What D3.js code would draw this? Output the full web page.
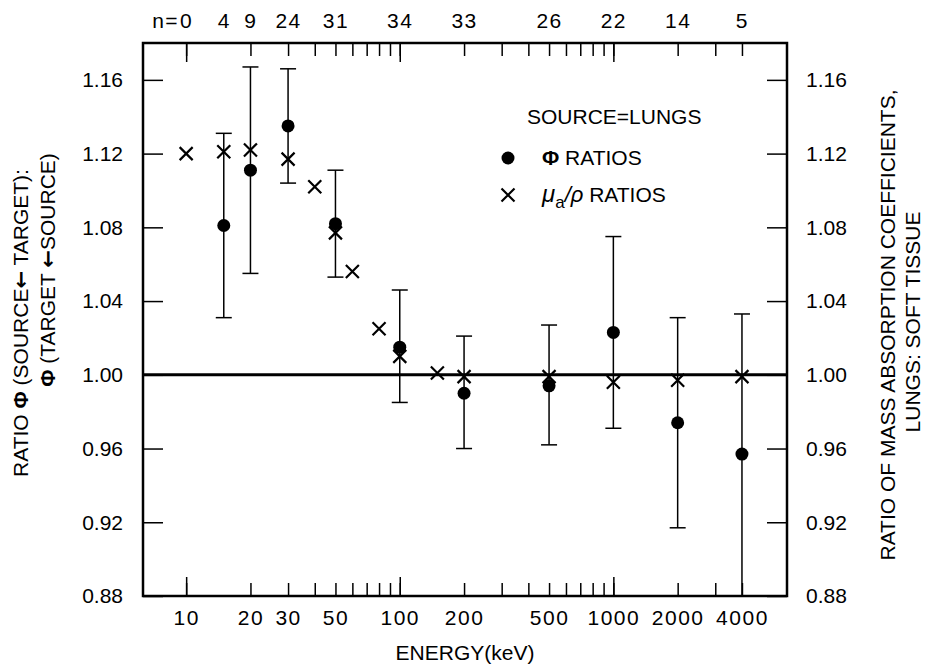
<!DOCTYPE html>
<html lang="en">
<head>
  <meta charset="utf-8" />
  <style>
    body { margin: 0; background: #fff; }
    text { font-family: "Liberation Sans", Arial, sans-serif; fill: #000; }
  </style>
</head>
<body>
<script src="https://d3js.org/d3.v7.min.js"></script>
<script>
// data
var phiEnergy = [15, 20, 30, 50, 100, 200, 500, 1000, 2000, 4000];
var phiRatio  = [1.081, 1.111, 1.135, 1.082, 1.015, 0.990, 0.994, 1.023, 0.974, 0.957];
var phiHigh   = [1.131, 1.167, 1.166, 1.111, 1.046, 1.021, 1.027, 1.075, 1.031, 1.033];
var phiLow    = [1.031, 1.055, 1.104, 1.053, 0.985, 0.960, 0.962, 0.971, 0.917, 0.880];

var muEnergy = [10, 15, 20, 30, 40, 50, 60, 80, 100, 150, 200, 500, 1000, 2000, 4000];
var muRatio  = [1.120, 1.121, 1.122, 1.117, 1.102, 1.077, 1.056, 1.025, 1.010, 1.001, 0.999, 0.999, 0.996, 0.997, 0.999];

var nEnergy = [10, 15, 20, 30, 50, 100, 200, 500, 1000, 2000, 4000];
var nCount  = [0, 4, 9, 24, 31, 34, 33, 26, 22, 14, 5];

var xLabels = [10, 20, 30, 50, 100, 200, 500, 1000, 2000, 4000];
var yTicks  = [0.88, 0.92, 0.96, 1.00, 1.04, 1.08, 1.12, 1.16];

var W = 930, H = 669;
var pL = 143, pR = 787, pT = 43, pB = 596;

var svg = d3.select("body").append("svg")
  .attr("width", W)
  .attr("height", H);

var x = d3.scaleLog().domain([6.28, 6500]).range([pL, pR]);
var y = d3.scaleLinear().domain([0.88, 1.18]).range([pB, pT]);

// all log ticks 10..4000
var minor = [];
[10, 100, 1000].forEach(function(d){
  for (var k = 1; k < 10; k++) if (d * k <= 4000) minor.push(d * k);
});
var major = [10, 100, 1000];

function clean(g) { g.select(".domain").remove(); }

// bottom ticks
svg.append("g").attr("transform", "translate(0," + pB + ")")
  .call(d3.axisBottom(x).tickValues(minor).tickSize(-13).tickFormat(""))
  .call(clean);
svg.append("g").attr("transform", "translate(0," + pB + ")")
  .call(d3.axisBottom(x).tickValues(major).tickSize(-19).tickFormat(""))
  .call(clean);
svg.append("g").attr("transform", "translate(0," + pB + ")")
  .call(d3.axisBottom(x).tickValues(xLabels).tickSize(0).tickPadding(14)
    .tickFormat(d3.format("d")))
  .call(clean)
  .selectAll("text").style("font-size", "21px").style("letter-spacing", "1.5px");

// top ticks
svg.append("g").attr("transform", "translate(0," + pT + ")")
  .call(d3.axisTop(x).tickValues(minor).tickSize(-13).tickFormat(""))
  .call(clean);
svg.append("g").attr("transform", "translate(0," + pT + ")")
  .call(d3.axisTop(x).tickValues(major).tickSize(-19).tickFormat(""))
  .call(clean);
svg.append("g").attr("transform", "translate(0," + pT + ")")
  .call(d3.axisTop(x).tickValues(nEnergy).tickSize(0).tickPadding(15)
    .tickFormat(function(d){ return nCount[nEnergy.indexOf(d)]; }))
  .call(clean)
  .selectAll("text").style("font-size", "21px").style("letter-spacing", "1.5px");
svg.append("text")
  .attr("x", x(10) - 7).attr("y", pT - 15)
  .attr("text-anchor", "end")
  .style("font-size", "21px").style("letter-spacing", "1.5px")
  .text("n=");

// left / right axes
svg.append("g").attr("transform", "translate(" + pL + ",0)")
  .call(d3.axisLeft(y).tickValues(yTicks).tickSize(-20).tickPadding(20)
    .tickFormat(d3.format(".2f")))
  .call(clean)
  .selectAll("text").style("font-size", "21px");
svg.append("g").attr("transform", "translate(" + pR + ",0)")
  .call(d3.axisRight(y).tickValues(yTicks).tickSize(-20).tickPadding(19)
    .tickFormat(d3.format(".2f")))
  .call(clean)
  .selectAll("text").style("font-size", "21px");

svg.selectAll(".tick line").attr("stroke", "#000").attr("stroke-width", 1.5);

// frame
svg.append("rect")
  .attr("x", pL).attr("y", pT)
  .attr("width", pR - pL).attr("height", pB - pT)
  .attr("fill", "none").attr("stroke", "#000").attr("stroke-width", 2.5);

// unity line
svg.append("line")
  .attr("x1", pL).attr("x2", pR)
  .attr("y1", y(1)).attr("y2", y(1))
  .attr("stroke", "#000").attr("stroke-width", 3);

// error bars
var eb = svg.append("g").attr("stroke", "#000").attr("stroke-width", 1.5);
phiEnergy.forEach(function(e, i){
  var cx = x(e);
  eb.append("line").attr("x1", cx).attr("x2", cx)
    .attr("y1", y(phiLow[i])).attr("y2", y(phiHigh[i]));
  [phiLow[i], phiHigh[i]].forEach(function(v){
    eb.append("line").attr("x1", cx - 8).attr("x2", cx + 8)
      .attr("y1", y(v)).attr("y2", y(v));
  });
});

// phi dots
svg.append("g").selectAll("circle")
  .data(phiEnergy)
  .enter().append("circle")
    .attr("cx", function(d){ return x(d); })
    .attr("cy", function(d, i){ return y(phiRatio[i]); })
    .attr("r", 6.5)
    .attr("fill", "#000");

// mu crosses
var cross = "M-6.5,-6.5L6.5,6.5M-6.5,6.5L6.5,-6.5";
svg.append("g").selectAll("path")
  .data(muEnergy)
  .enter().append("path")
    .attr("transform", function(d, i){
      return "translate(" + x(d) + "," + y(muRatio[i]) + ")";
    })
    .attr("d", cross)
    .attr("stroke", "#000").attr("stroke-width", 2.2).attr("fill", "none");

// legend
svg.append("text").attr("x", 527).attr("y", 124)
  .style("font-size", "21px").text("SOURCE=LUNGS");
svg.append("circle").attr("cx", 508).attr("cy", 158).attr("r", 6.5).attr("fill", "#000");
svg.append("text").attr("x", 542).attr("y", 165)
  .style("font-size", "21px")
  .html('<tspan font-weight="bold">Φ</tspan> RATIOS');
svg.append("path").attr("transform", "translate(508,195)").attr("d", cross)
  .attr("stroke", "#000").attr("stroke-width", 2.2).attr("fill", "none");
svg.append("text").attr("x", 542).attr("y", 202)
  .style("font-size", "21px")
  .html('<tspan font-style="italic" font-size="24px">μ</tspan>' +
        '<tspan dy="6" font-size="17px">a</tspan>' +
        '<tspan dy="-6" font-style="italic" font-size="22px">/ρ</tspan> RATIOS');

// axis titles
svg.append("text").attr("x", 465).attr("y", 660)
  .attr("text-anchor", "middle").style("font-size", "21px")
  .text("ENERGY(keV)");

var arrow = '<tspan font-family="DejaVu Sans" font-weight="bold">←</tspan>';
svg.append("text")
  .attr("transform", "translate(28,323) rotate(-90)")
  .attr("text-anchor", "middle").style("font-size", "21px")
  .html('RATIO <tspan font-weight="bold">Φ</tspan> (SOURCE' + arrow + ' TARGET):');
svg.append("text")
  .attr("transform", "translate(55,270) rotate(-90)")
  .attr("text-anchor", "middle").style("font-size", "21px")
  .html('<tspan font-weight="bold">Φ</tspan> (TARGET ' + arrow + 'SOURCE)');

svg.append("text")
  .attr("transform", "translate(895,325) rotate(-90)")
  .attr("text-anchor", "middle").style("font-size", "21px")
  .text("RATIO OF MASS ABSORPTION COEFFICIENTS,");
svg.append("text")
  .attr("transform", "translate(920,322) rotate(-90)")
  .attr("text-anchor", "middle").style("font-size", "21px")
  .text("LUNGS: SOFT TISSUE");
</script>
</body>
</html>
